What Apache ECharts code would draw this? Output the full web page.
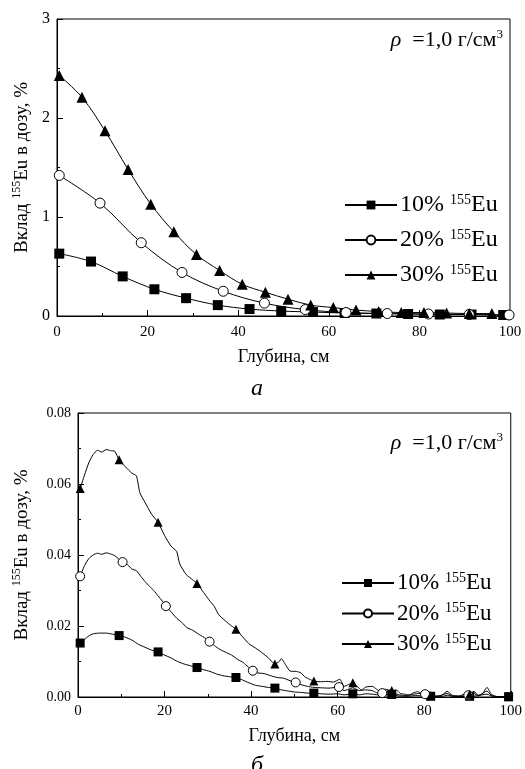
<!DOCTYPE html>
<html><head><meta charset="utf-8">
<script src="https://cdn.jsdelivr.net/npm/echarts@6/dist/echarts.min.js"></script>
<style>html,body{margin:0;padding:0;background:#fff}#c{width:525px;height:769px}</style>
</head><body><div id="c"></div>
<script>
// ---------- data ----------
const seriesLabels = ['10%', '20%', '30%'];
const xTicks = [0, 20, 40, 60, 80, 100];
const topYTicks = [0, 1, 2, 3];
const botYTicks = [0, 0.02, 0.04, 0.06, 0.08];

// Chart а (top): points with markers
const a10x = [0.5, 7.5, 14.5, 21.5, 28.5, 35.5, 42.5, 49.5, 56.5, 63.5, 70.5, 77.5, 84.5, 91.5, 98.5];
const a10y = [0.63, 0.55, 0.40, 0.27, 0.18, 0.11, 0.07, 0.05, 0.04, 0.03, 0.025, 0.02, 0.015, 0.015, 0.01];
const a20x = [0.5, 9.5, 18.6, 27.6, 36.7, 45.8, 54.8, 63.8, 72.9, 82.0, 91.0, 99.8];
const a20y = [1.42, 1.14, 0.74, 0.44, 0.25, 0.13, 0.065, 0.035, 0.025, 0.02, 0.015, 0.01];
const a30x = [0.5, 5.5, 10.6, 15.7, 20.7, 25.8, 30.8, 35.9, 40.9, 46, 51, 56, 61, 66, 71, 76, 81, 86, 91, 96];
const a30y = [2.43, 2.21, 1.87, 1.48, 1.13, 0.85, 0.62, 0.46, 0.32, 0.24, 0.17, 0.11, 0.085, 0.06, 0.045, 0.035, 0.035, 0.03, 0.025, 0.025];

// Chart б (bottom): dense curves + marker positions
const b10x = [0.5,1.5,2.5,3.5,5,6.5,8,9.5,11,12.5,14,15.5,17,18.5,20,21.5,23,24.5,26,27.5,29,30.5,32,33.5,35,36.5,38,39.5,41,42.5,44,45.5,47,48.5,50,51.5,53,54.5,56,58,60,61.5,63.5,65,66.5,68,70,72.5,74,76,78,80,81.5,84,85.3,87,90.5,92,94.5,96,99.5];
const b10y = [0.0152,0.0162,0.0172,0.0178,0.0180,0.0180,0.0177,0.0173,0.0168,0.0160,0.0148,0.0140,0.0132,0.0127,0.0118,0.0110,0.0100,0.0093,0.0088,0.0083,0.0077,0.0072,0.0065,0.0060,0.0057,0.0055,0.0048,0.0040,0.0033,0.0030,0.0027,0.0025,0.0020,0.0017,0.0014,0.0013,0.0011,0.0011,0.0009,0.0008,0.0009,0.0006,0.0009,0.0006,0.0009,0.0008,0.0005,0.0007,0.0003,0.0002,0.0004,0.0003,0.0002,0.0001,0.0005,0.0001,0.0002,0.0003,0.0008,0.0001,0.0001];
const b10marks = [0.5, 9.5, 18.5, 27.5, 36.5, 45.5, 54.5, 63.5, 72.5, 81.5, 90.5, 99.5];

const b20x = [0.5,1.5,2.5,3.5,4.5,5.5,6.5,7.5,8.5,10.3,11.5,12.5,13.5,14.5,15.5,16.5,17.5,18.5,19.5,20.3,21.5,22.8,24,25.1,26.5,28,29.5,30.4,31.5,32.8,34.3,35.5,37,38.2,39.3,40.4,41.5,43,44.5,46,47.5,49,50.3,51.5,53,54.5,56,58,60.3,61.5,62.5,63.5,65,66.5,68,69,70.3,71.5,72.5,74,75.5,77.5,79,80.2,81.5,83,85.3,86.5,88,90.2,91.5,92.5,94.5,95.5,97,99.8];
const b20y = [0.0340,0.0370,0.0390,0.0400,0.0405,0.0402,0.0406,0.0403,0.0398,0.0380,0.0372,0.0360,0.0356,0.0340,0.0325,0.0312,0.0300,0.0285,0.0270,0.0256,0.0240,0.0222,0.0210,0.0196,0.0188,0.0176,0.0165,0.0156,0.0145,0.0134,0.0125,0.0118,0.0105,0.0097,0.0085,0.0074,0.0068,0.0066,0.0060,0.0055,0.0053,0.0046,0.0041,0.0035,0.0030,0.0027,0.0026,0.0025,0.0028,0.0018,0.0022,0.0026,0.0018,0.0020,0.0018,0.0012,0.0011,0.0016,0.0012,0.0007,0.0004,0.0008,0.0010,0.0008,0.0003,0.0002,0.0010,0.0003,0.0002,0.0005,0.0010,0.0003,0.0017,0.0005,0.0001,0.0001];
const b20marks = [0.5, 10.3, 20.3, 30.4, 40.4, 50.3, 60.3, 70.3, 80.2, 90.2];

const b30x = [0.5,1.5,2.5,3.5,4.5,5.5,6.5,7.5,8.5,9.5,11,12.5,13.5,14.3,15.5,17,18.5,20,21.5,22.8,23.5,25,26.5,27.5,29,30.5,31.5,32.5,34,35.5,36.5,38,39.5,41,42.5,44,45.5,46.5,47,48,49,50.5,51.5,52.5,53.5,54.5,56,57.5,59,60.5,61.5,62.5,63.5,64.5,65.5,66.5,68,69,70,71,72.5,73.5,74.5,75.5,76.5,77.5,78.5,79.5,80.5,81.5,82.5,84,85.3,86.5,88,89.5,90.5,91.5,92.5,93.5,94.5,95.5,96.5,98,99.5];
const b30y = [0.0587,0.0625,0.0660,0.0683,0.0695,0.0690,0.0697,0.0694,0.0692,0.0668,0.0648,0.0630,0.0623,0.0575,0.0548,0.0515,0.0492,0.0455,0.0425,0.0410,0.0375,0.0345,0.0330,0.0320,0.0295,0.0270,0.0255,0.0232,0.0215,0.0200,0.0191,0.0170,0.0150,0.0138,0.0125,0.0110,0.0093,0.0100,0.0108,0.0090,0.0073,0.0072,0.0068,0.0056,0.0050,0.0045,0.0043,0.0044,0.0042,0.0050,0.0030,0.0035,0.0040,0.0030,0.0020,0.0028,0.0030,0.0022,0.0015,0.0022,0.0018,0.0020,0.0010,0.0008,0.0005,0.0012,0.0015,0.0008,0.0005,0.0004,0.0003,0.0004,0.0016,0.0005,0.0003,0.0008,0.0008,0.0016,0.0005,0.0010,0.0027,0.0008,0.0002,0.0001,0.0001];
const b30marks = [0.5, 9.5, 18.5, 27.5, 36.5, 45.5, 54.5, 63.5, 72.5, 81.5, 90.5, 99.5];

// ---------- chart ----------
const FONT = "'Liberation Serif', 'Times New Roman', serif";
const chart = echarts.init(document.getElementById('c'), null, {renderer: 'canvas'});

const symbols = {'10': 'rect', '20': 'circle', '30': 'triangle'};
const fills = {'10': '#000', '20': '#fff', '30': '#000'};

function pairs(xs, ys) { return xs.map((x, i) => [x, ys[i]]); }
function marked(xs, ys, marks) {
  return xs.map((x, i) => marks.indexOf(x) >= 0 ? {value: [x, ys[i]]} : {value: [x, ys[i]], symbol: 'none'});
}

function xAxis(gi) {
  return {
    type: 'value', gridIndex: gi, min: xTicks[0], max: xTicks[xTicks.length - 1], interval: 20,
    name: 'Глубина, см', nameLocation: 'middle', nameGap: gi === 0 ? 32 : 30,
    nameTextStyle: {fontFamily: FONT, fontSize: 18, color: '#000'},
    axisLine: {show: true, onZero: false, lineStyle: {color: '#000', width: 1}},
    axisTick: {show: true, inside: true, length: 6, lineStyle: {color: '#000'}},
    minorTick: {show: true, splitNumber: 2, length: 3, lineStyle: {color: '#000'}},
    splitLine: {show: false},
    axisLabel: {fontFamily: FONT, fontSize: 15, color: '#000', margin: gi === 0 ? 9 : 7}
  };
}
function yName() {
  return '{n|Вклад }{s|155}{n|Eu в дозу, %}';
}
const nameRich = {
  n: {fontFamily: FONT, fontSize: 19, color: '#000', lineHeight: 22},
  s: {fontFamily: FONT, fontSize: 12, color: '#000', lineHeight: 22, verticalAlign: 'top'}
};

function legendRich(fs) {
  return {
    t: {fontFamily: FONT, fontSize: fs, color: '#000', lineHeight: 24},
    s: {fontFamily: FONT, fontSize: Math.round(fs * 0.6), color: '#000', lineHeight: 24, verticalAlign: 'top'}
  };
}
function legendFmt(name) {
  const p = name.slice(1);
  return '{t|' + p + '% }{s|155}{t|Eu}';
}

function lineSeries(name, gi, data, size, smooth) {
  const k = name.slice(1);
  return {
    name: name, type: 'line', xAxisIndex: gi, yAxisIndex: gi,
    data: data, smooth: smooth, symbol: symbols[k],
    symbolSize: k === '30' ? size + 1 : size,
    showAllSymbol: true, clip: false,
    lineStyle: {color: '#000', width: 1},
    itemStyle: {color: fills[k], borderColor: '#000', borderWidth: k === '20' ? 1 : 0},
    emphasis: {disabled: true}, animation: false
  };
}

function rhoText() {
  return {
    text: '{r|ρ}{t|  =1,0 г/см}{s|3}', rich: {
      r: {fontFamily: FONT, fontSize: 22, fontStyle: 'italic', color: '#000', lineHeight: 24},
      t: {fontFamily: FONT, fontSize: 22, color: '#000', lineHeight: 24},
      s: {fontFamily: FONT, fontSize: 13, color: '#000', lineHeight: 24, verticalAlign: 'top'}
    }
  };
}

const option = {
  animation: false,
  backgroundColor: '#fff',
  grid: [
    {left: 57, top: 19, width: 453, height: 297, show: true, borderColor: '#000', borderWidth: 1, backgroundColor: 'transparent'},
    {left: 78, top: 413, width: 435, height: 284, show: true, borderColor: '#000', borderWidth: 1, backgroundColor: 'transparent'}
  ],
  xAxis: [xAxis(0), xAxis(1)],
  yAxis: [
    {
      type: 'value', gridIndex: 0, min: topYTicks[0], max: topYTicks[topYTicks.length - 1], interval: 1,
      name: yName(), nameLocation: 'middle', nameGap: 22, nameRotate: 90,
      nameTextStyle: {rich: nameRich},
      axisLine: {show: true, onZero: false, lineStyle: {color: '#000'}},
      axisTick: {show: true, inside: true, length: 6, lineStyle: {color: '#000'}},
      minorTick: {show: true, splitNumber: 2, length: 3, lineStyle: {color: '#000'}},
      splitLine: {show: false},
      axisLabel: {fontFamily: FONT, fontSize: 16, color: '#000', margin: 7}
    },
    {
      type: 'value', gridIndex: 1, min: botYTicks[0], max: botYTicks[botYTicks.length - 1], interval: 0.02,
      name: yName(), nameLocation: 'middle', nameGap: 45, nameRotate: 90,
      nameTextStyle: {rich: nameRich},
      axisLine: {show: true, onZero: false, lineStyle: {color: '#000'}},
      axisTick: {show: true, inside: true, length: 6, lineStyle: {color: '#000'}},
      minorTick: {show: true, splitNumber: 2, length: 3, lineStyle: {color: '#000'}},
      splitLine: {show: false},
      axisLabel: {fontFamily: FONT, fontSize: 14, color: '#000', margin: 7, formatter: v => v.toFixed(2)}
    }
  ],
  legend: [
    {
      data: ['a10', 'a20', 'a30'], orient: 'vertical', left: 339, top: 188,
      itemWidth: 52, itemHeight: 11, itemGap: 11, formatter: legendFmt,
      textStyle: {rich: legendRich(24), padding: [0, 0, 0, -2]}, selectedMode: false, inactiveColor: '#000'
    },
    {
      data: ['b10', 'b20', 'b30'], orient: 'vertical', left: 336, top: 566,
      itemWidth: 52, itemHeight: 10, itemGap: 7, formatter: legendFmt,
      textStyle: {rich: legendRich(23), padding: [0, 0, 0, -2]}, selectedMode: false, inactiveColor: '#000'
    }
  ],
  series: [
    lineSeries('a10', 0, pairs(a10x, a10y), 10, 0.35),
    lineSeries('a20', 0, pairs(a20x, a20y), 10, 0.35),
    lineSeries('a30', 0, pairs(a30x, a30y), 10, 0.35),
    lineSeries('b10', 1, marked(b10x, b10y, b10marks), 9, 0.2),
    lineSeries('b20', 1, marked(b20x, b20y, b20marks), 9, 0.2),
    lineSeries('b30', 1, marked(b30x, b30y, b30marks), 8, 0.2)
  ],
  graphic: [
    {type: 'text', right: 22, top: 28, style: rhoText()},
    {type: 'text', right: 22, top: 431, style: rhoText()},
    {type: 'text', left: 251, top: 377, style: {text: 'а', fontFamily: FONT, fontSize: 24, fontStyle: 'italic', fill: '#000'}},
    {type: 'text', left: 251, top: 754, style: {text: 'б', fontFamily: FONT, fontSize: 24, fontStyle: 'italic', fill: '#000'}}
  ]
};
chart.setOption(option);
</script>
</body></html>
